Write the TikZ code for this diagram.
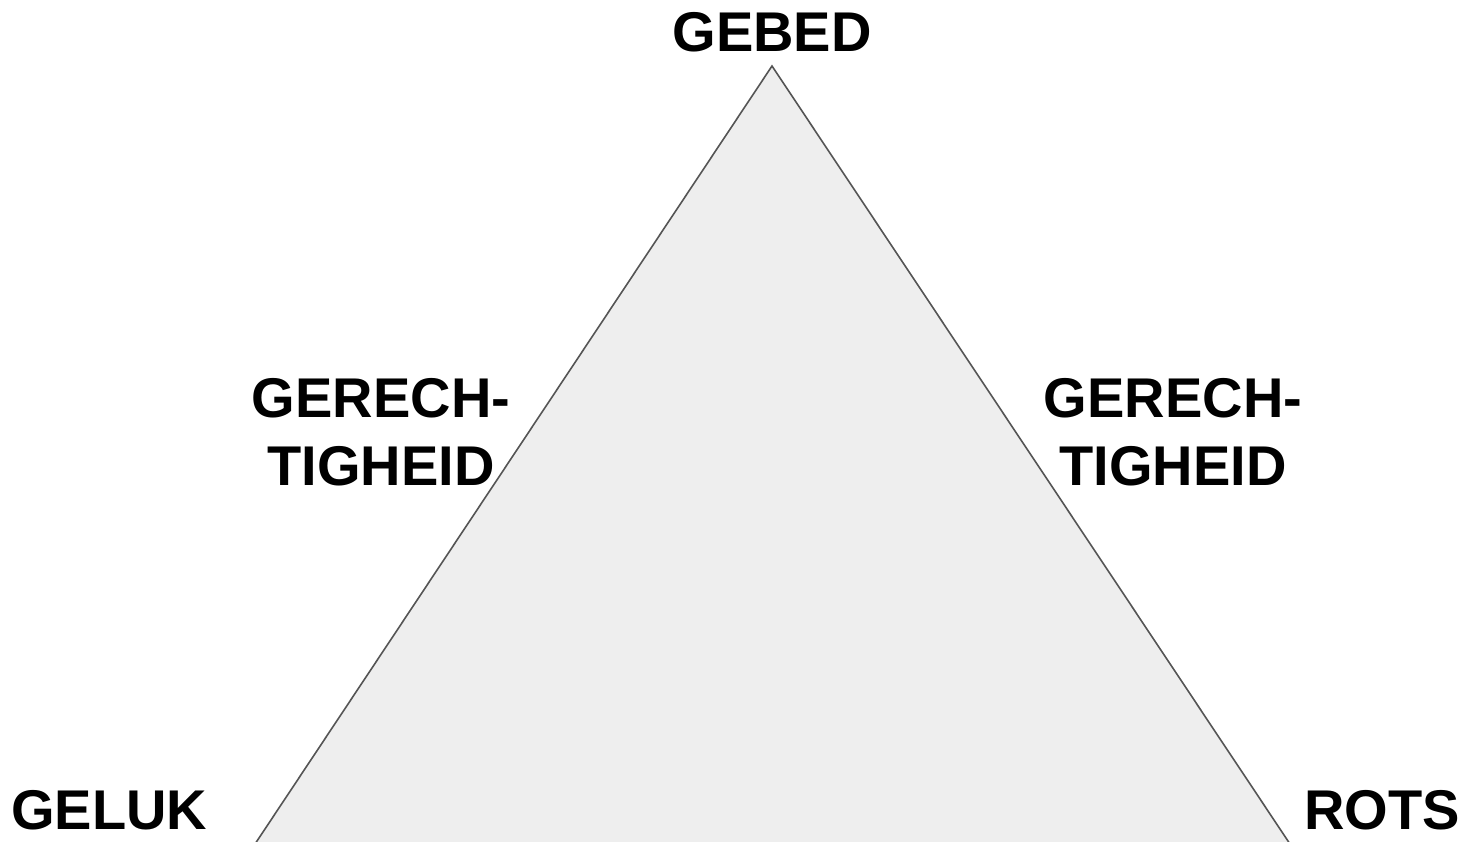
\documentclass[tikz,border=0pt]{standalone}
\usepackage{fontspec}
\setmainfont{Liberation Sans}
\usetikzlibrary{calc}
\definecolor{trifill}{HTML}{EEEEEE}
\definecolor{triline}{HTML}{555555}
\begin{document}
\begin{tikzpicture}[x=1pt,y=-1pt,
  lbl/.style={font=\fontsize{56}{67}\selectfont\bfseries, inner sep=0pt, align=center, text=black}]
\useasboundingbox (0,0) rectangle (1466,841);
\clip (0,0) rectangle (1466,841);
\coordinate (top) at (772,66);
\coordinate (bl) at (257,841);
\coordinate (br) at (1288,841);
\draw[triline, fill=trifill, line width=1.6pt, line join=miter] (top) -- ($(top)!1.003!(bl)$) -- ($(top)!1.003!(br)$) -- cycle;
\node[lbl, anchor=base] (gebed) at (772,51) {GEBED};
\node[lbl, anchor=base west] (geluk) at (11,829) {GELUK};
\node[lbl, anchor=base east] (rots) at (1460,829) {ROTS};
\node[lbl, anchor=base] (gl1) at (381,417) {GERECH-};
\node[lbl, anchor=base] (gl2) at (381,485) {TIGHEID};
\node[lbl, anchor=base] (gr1) at (1173,417) {GERECH-};
\node[lbl, anchor=base] (gr2) at (1173,485) {TIGHEID};
\end{tikzpicture}
\end{document}
